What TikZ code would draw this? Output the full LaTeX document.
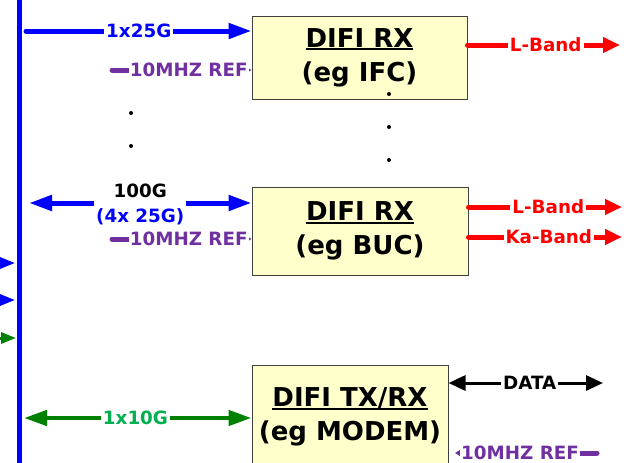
\documentclass[tikz,border=0pt]{standalone}
\usepackage{fontspec}
\setmainfont{DejaVu Sans}
\usetikzlibrary{arrows.meta}
\definecolor{cblue}{HTML}{0000FF}
\definecolor{cpurple}{HTML}{7030A0}
\definecolor{cred}{HTML}{FF0000}
\definecolor{cgreen}{HTML}{008000}
\definecolor{cgreentext}{HTML}{00B050}
\definecolor{cbox}{HTML}{FFFFCC}
\definecolor{cborder}{HTML}{404040}
\newsavebox\myulbox
\newcommand\myul[1]{\sbox\myulbox{#1}\rlap{\raisebox{-3.3pt}{\rule{\wd\myulbox}{2.3pt}}}\usebox\myulbox}
\begin{document}
\begin{tikzpicture}[x=1pt,y=-1pt,
  box/.style={draw=cborder, line width=1pt, fill=cbox, font=\fontsize{26}{34}\selectfont\bfseries, align=center, inner sep=0pt},
  lbl/.style={fill=white, inner xsep=2pt, inner ysep=1pt, align=center, font=\fontsize{18.3}{25}\selectfont\bfseries},
  bl/.style={draw=cblue, line width=5pt, line cap=round},
  pl/.style={draw=cpurple, line width=5pt, line cap=round},
  rl/.style={draw=cred, line width=5pt, line cap=round},
  gl/.style={draw=cgreen, line width=4.5pt, line cap=round},
  kl/.style={draw=black, line width=3pt, line cap=round},
  bigtip/.tip={Triangle[length=23pt,width=15pt]},
  midtip/.tip={Triangle[length=17pt,width=15pt]},
  smalltip/.tip={Triangle[length=6pt,width=7pt]},
  edgetip/.tip={Triangle[length=15pt,width=11pt]}
]
\useasboundingbox (0,0) rectangle (629,463);
\clip (0,0) rectangle (629,463);

% boxes
\node[box, minimum width=215pt, minimum height=83pt] (box1) at (359.5,57.5) {\myul{DIFI RX}\\(eg IFC)};
\node[box, minimum width=216pt, minimum height=88pt] (box2) at (360,231) {\myul{DIFI RX}\\(eg BUC)};
\node[box, minimum width=196pt, minimum height=104pt] (box3) at (350,417) {\myul{DIFI TX/RX}\\(eg MODEM)};

% vertical bus
\coordinate (vtop) at (19.5,0);
\coordinate (vbot) at (19.5,463);
\draw[cblue, line width=5pt] (vtop) -- (vbot);

% arrowheads entering from the left edge
\coordinate (e1s) at (-20,263); \coordinate (e1) at (15,263);
\coordinate (e2s) at (-20,300); \coordinate (e2) at (15,300);
\coordinate (e3s) at (-20,338); \coordinate (e3) at (16,338);
\draw[draw=cblue, line width=3pt, -edgetip, fill=cblue] (e1s) -- (e1);
\draw[draw=cblue, line width=3pt, -edgetip, fill=cblue] (e2s) -- (e2);
\draw[draw=cgreen, line width=3pt, -edgetip, fill=cgreen] (e3s) -- (e3);

% row 1
\coordinate (a1) at (26,31);
\draw[bl, -bigtip] (a1) -- (a1 -| box1.west) node[lbl, text=cblue, pos=0.5] (t1) {1x25G};
\coordinate (p1) at (112,70);
\draw[pl, -smalltip] (p1) -- (p1 -| box1.west) node[lbl, text=cpurple, pos=0.55, inner xsep=1pt] (t2) {10MHZ REF};
\coordinate (r1) at (620,45);
\draw[rl, -midtip] (r1 -| box1.east) -- (r1) node[lbl, text=cred, pos=0.513] (t3) {L-Band};

% row 2
\coordinate (a2) at (29,203);
\draw[bl, bigtip-bigtip] (a2) -- (a2 -| box2.west) node[lbl, text=cblue, pos=0.5, yshift=-1.5pt] (t4) {{\color{black}100G}\\(4x 25G)};
\coordinate (p2) at (112,239);
\draw[pl, -smalltip] (p2) -- (p2 -| box2.west) node[lbl, text=cpurple, pos=0.55, inner xsep=1pt] (t5) {10MHZ REF};
\coordinate (r2) at (622,207);
\draw[rl, -midtip] (r2 -| box2.east) -- (r2) node[lbl, text=cred, pos=0.52] (t6) {L-Band};
\coordinate (r3) at (622,237);
\draw[rl, -midtip] (r3 -| box2.east) -- (r3) node[lbl, text=cred, pos=0.523] (t7) {Ka-Band};

% row 3
\coordinate (g1) at (24,418);
\draw[gl, bigtip-bigtip] (g1) -- (g1 -| box3.west) node[lbl, text=cgreentext, pos=0.49] (t8) {1x10G};
\coordinate (d1) at (603,383);
\draw[kl, midtip-midtip] (d1 -| box3.east) -- (d1) node[lbl, text=black, pos=0.526] (t9) {DATA};
\coordinate (p3) at (597,453);
\coordinate (p3e) at (455,453);
\draw[pl, -smalltip] (p3) -- (p3e) node[lbl, text=cpurple, pos=0.542, inner xsep=1pt] (t10) {10MHZ REF};

% ellipsis dots
\fill (131,113) circle (2pt);
\fill (131,146) circle (2pt);
\fill (389,94) circle (2pt);
\fill (389,127) circle (2pt);
\fill (389,160) circle (2pt);
\end{tikzpicture}
\end{document}
